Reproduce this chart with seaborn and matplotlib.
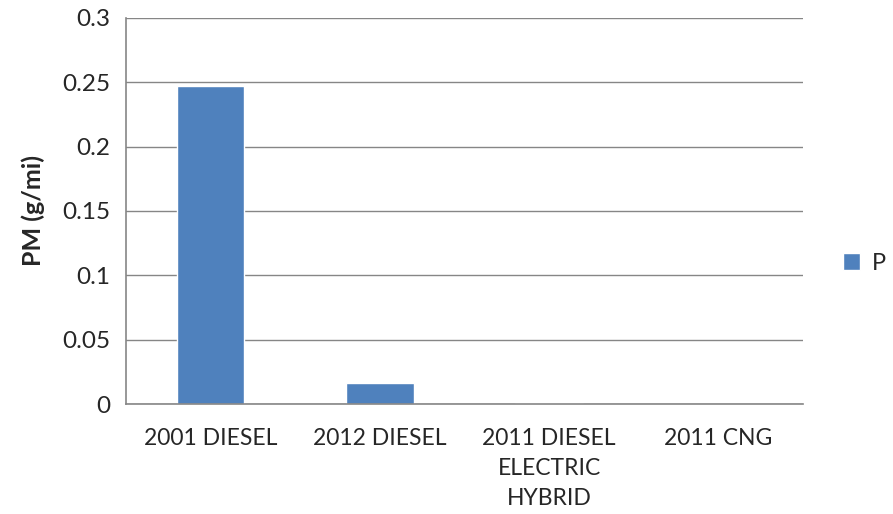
import pandas as pd
import matplotlib
matplotlib.use('Agg')
import matplotlib.pyplot as plt
import seaborn as sns

# Data
vehicles = ['2001 DIESEL', '2012 DIESEL', '2011 DIESEL\nELECTRIC\nHYBRID', '2011 CNG']
pm_values = [0.247, 0.0163, 0.0008, 0.0]
series_name = 'P'

df = pd.DataFrame({'vehicle': vehicles, 'PM': pm_values, 'series': series_name})

sns.set_style('white')
plt.rcParams['font.family'] = ['Lato', 'DejaVu Sans']

fig = plt.figure(figsize=(8.93, 5.14), dpi=100)
ax = fig.add_axes([0.1411, 0.214, 0.7581, 0.751])

sns.barplot(data=df, x='vehicle', y='PM', hue='series', palette=['#4F81BD'],
            width=0.4, ax=ax, saturation=1)

ax.set_ylim(0, 0.3)
ax.set_xlim(-0.5, 3.5)
ax.set_yticks([0, 0.05, 0.1, 0.15, 0.2, 0.25, 0.3])
ax.set_yticklabels(['0', '0.05', '0.1', '0.15', '0.2', '0.25', '0.3'])
ax.yaxis.grid(True, color='#868686', linewidth=1)
ax.set_axisbelow(True)

# tick marks at category boundaries, like the original
ax.set_xticks([0, 1, 2, 3])
ax.set_xticks([-0.5, 0.5, 1.5, 2.5, 3.5], minor=True)
ax.tick_params(axis='x', which='major', length=0, labelsize=16.5, pad=17)
ax.tick_params(axis='x', which='minor', length=7, color='#868686', width=1)
ax.tick_params(axis='y', length=7, color='#868686', width=1, labelsize=17.5, pad=4)
for lbl in ax.get_xticklabels():
    lbl.set_linespacing(1.55)

for side in ['top', 'right']:
    ax.spines[side].set_visible(False)
for side in ['left', 'bottom']:
    ax.spines[side].set_color('#868686')
    ax.spines[side].set_linewidth(1.2)

ax.set_xlabel('')
ax.set_ylabel('PM (g/mi)', fontsize=18, fontweight='bold')
ax.yaxis.set_label_coords(-0.12, 0.5)

ax.legend(loc='center left', bbox_to_anchor=(1.035, 0.365), frameon=False,
          fontsize=17, handlelength=0.7, handleheight=0.7, handletextpad=0.5,
          borderaxespad=0.3)

plt.savefig('out.png', dpi=100)
